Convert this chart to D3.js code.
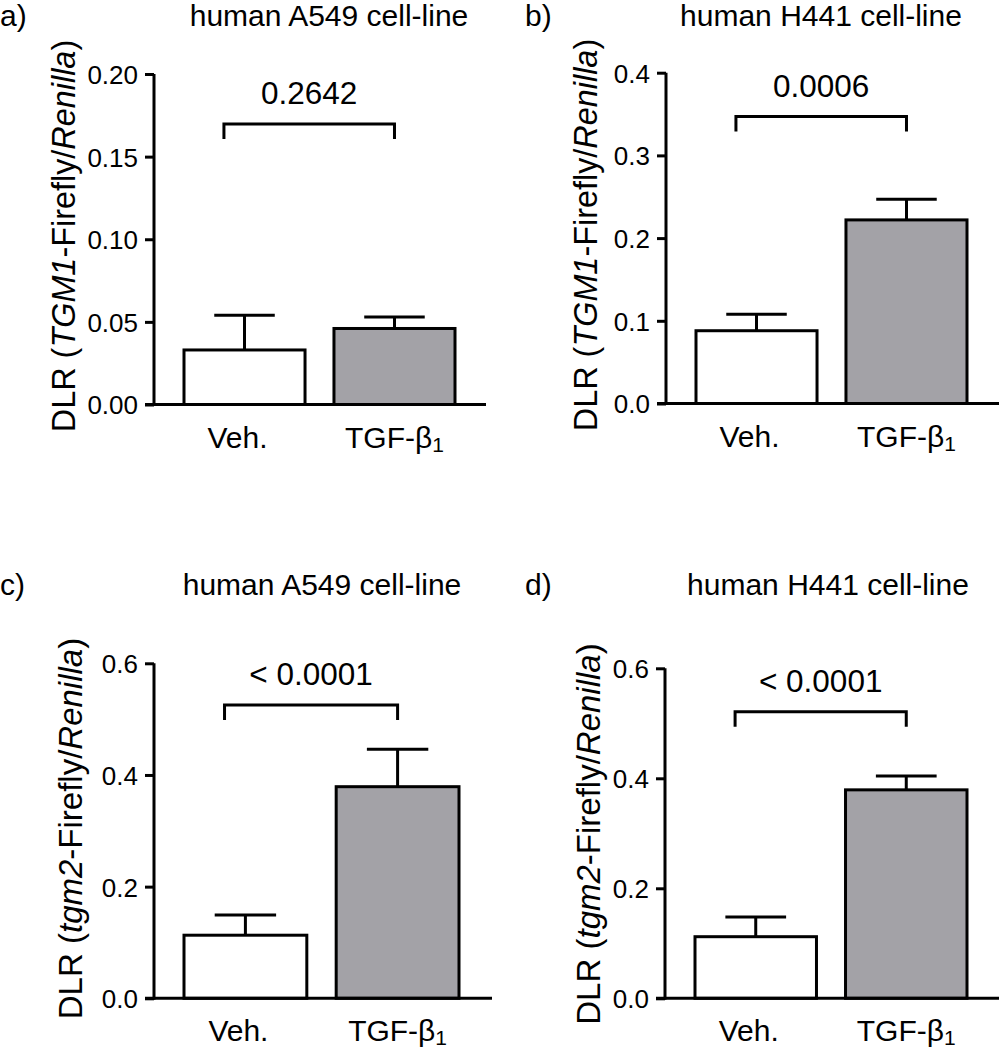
<!DOCTYPE html>
<html>
<head>
<meta charset="utf-8">
<script src="https://cdn.jsdelivr.net/npm/d3@7"></script>
<style>
  html, body { margin: 0; padding: 0; background: #fff; }
  svg { display: block; }
  text { font-family: "Liberation Sans", Arial, Helvetica, sans-serif; fill: #000; }
</style>
</head>
<body>
<svg id="chart" width="999" height="1050"></svg>
<script>
// ---------------- data ----------------
const categories = ["Veh.", "TGF-β1"];
const panelLetters = ["a)", "b)", "c)", "d)"];
const panelTitles = ["human A549 cell-line", "human H441 cell-line", "human A549 cell-line", "human H441 cell-line"];
const geneNames = ["TGM1", "TGM1", "tgm2", "tgm2"];
const yMaxValues = [0.20, 0.4, 0.6, 0.6];
const yTickValues = [
  [0, 0.05, 0.10, 0.15, 0.20],
  [0, 0.1, 0.2, 0.3, 0.4],
  [0, 0.2, 0.4, 0.6],
  [0, 0.2, 0.4, 0.6]
];
const yTickFormats = [".2f", ".1f", ".1f", ".1f"];
const meanValues = [
  [0.033, 0.046],
  [0.088, 0.222],
  [0.113, 0.379],
  [0.112, 0.379]
];
const semValues = [
  [0.021, 0.007],
  [0.020, 0.025],
  [0.036, 0.067],
  [0.036, 0.025]
];
const pValues = ["0.2642", "0.0006", "< 0.0001", "< 0.0001"];
const bracketValues = [0.1697, 0.347, 0.5255, 0.521];

// ---------------- layout ----------------
const layout = [
  { L: 154, yTop: 74,    yBot: 404.5, xEnd: 486, bandW: 271, labelX: 75,  labelY: 236, labelSize: 32.4, titleX: 329, titleY: 26, letterX: 0,   letterY: 26, xLabY: 448 },
  { L: 666, yTop: 72.7,  yBot: 403.5, xEnd: 999, bandW: 271, labelX: 597, labelY: 235, labelSize: 32.4, titleX: 821, titleY: 26, letterX: 525, letterY: 26, xLabY: 447 },
  { L: 154, yTop: 663.3, yBot: 998.3, xEnd: 492, bandW: 275, labelX: 82,  labelY: 828.5, labelSize: 33, titleX: 322, titleY: 595, letterX: 0, letterY: 595, xLabY: 1041 },
  { L: 665, yTop: 668.3, yBot: 998.3, xEnd: 999, bandW: 272, labelX: 600, labelY: 834, labelSize: 33,  titleX: 828, titleY: 595, letterX: 525, letterY: 595, xLabY: 1041 }
];
const barFills = ["#ffffff", "#a3a2a7"];
const SW = 3;

const svg = d3.select("#chart");

layout.forEach((lay, i) => {
  const g = svg.append("g");

  const y = d3.scaleLinear().domain([0, yMaxValues[i]]).range([lay.yBot, lay.yTop]);
  const x = d3.scaleBand().domain(categories)
    .range([lay.L + 30, lay.L + 30 + lay.bandW])
    .paddingInner(0.193).paddingOuter(0);
  const bw = x.bandwidth();

  // panel letter
  g.append("text").attr("x", lay.letterX).attr("y", lay.letterY)
    .attr("font-size", 30).text(panelLetters[i]);

  // title
  g.append("text").attr("x", lay.titleX).attr("y", lay.titleY)
    .attr("text-anchor", "middle").attr("font-size", 30).text(panelTitles[i]);

  // y axis
  const yAxis = d3.axisLeft(y).tickValues(yTickValues[i])
    .tickFormat(d3.format(yTickFormats[i]))
    .tickSize(9).tickSizeOuter(0).tickPadding(7);
  const ya = g.append("g").attr("transform", `translate(${lay.L},0)`).call(yAxis);
  ya.select(".domain").attr("stroke", "#000").attr("stroke-width", SW)
    .attr("d", `M0,${lay.yBot + 1.5}V${lay.yTop}`);
  ya.selectAll(".tick line").attr("stroke", "#000").attr("stroke-width", SW);
  ya.selectAll(".tick text").attr("font-size", 26)
    .attr("font-family", "'Liberation Sans', Arial, sans-serif").attr("dy", "0.36em");

  // y axis label
  const yl = g.append("text")
    .attr("transform", `translate(${lay.labelX},${lay.labelY}) rotate(-90)`)
    .attr("text-anchor", "middle").attr("font-size", lay.labelSize);
  yl.append("tspan").text("DLR (");
  yl.append("tspan").attr("font-style", "italic").text(geneNames[i]);
  yl.append("tspan").text("-Firefly/");
  yl.append("tspan").attr("font-style", "italic").text("Renilla");
  yl.append("tspan").text(")");

  // error bars (upper only)
  categories.forEach((c, j) => {
    const cx = x(c) + bw / 2;
    const top = y(meanValues[i][j] + semValues[i][j]);
    g.append("line").attr("x1", cx).attr("x2", cx)
      .attr("y1", y(meanValues[i][j])).attr("y2", top)
      .attr("stroke", "#000").attr("stroke-width", SW);
    g.append("line").attr("x1", cx - bw / 4).attr("x2", cx + bw / 4)
      .attr("y1", top).attr("y2", top)
      .attr("stroke", "#000").attr("stroke-width", SW);
  });

  // bars
  g.selectAll("rect.bar").data(categories).join("rect")
    .attr("class", "bar")
    .attr("x", c => x(c))
    .attr("width", bw)
    .attr("y", (c, j) => y(meanValues[i][j]))
    .attr("height", (c, j) => lay.yBot - y(meanValues[i][j]))
    .attr("fill", (c, j) => barFills[j])
    .attr("stroke", "#000").attr("stroke-width", SW);

  // x axis line
  g.append("line").attr("x1", lay.L - 9).attr("x2", lay.xEnd)
    .attr("y1", lay.yBot).attr("y2", lay.yBot)
    .attr("stroke", "#000").attr("stroke-width", SW);

  // x labels
  categories.forEach((c, j) => {
    const cx = x(c) + bw / 2;
    const t = g.append("text").attr("x", j === 0 ? cx - 7 : cx).attr("y", lay.xLabY)
      .attr("text-anchor", "middle").attr("font-size", 30);
    if (c.endsWith("1") && c.includes("β")) {
      t.append("tspan").text(c.slice(0, -1));
      t.append("tspan").attr("font-size", 21).attr("dy", 4).text(c.slice(-1));
    } else {
      t.text(c);
    }
  });

  // significance bracket
  const bx0 = x(categories[0]) + bw * 0.33;
  const bx1 = x(categories[1]) + bw / 2;
  const by = y(bracketValues[i]);
  g.append("path")
    .attr("d", `M${bx0},${by + 15}V${by}H${bx1}V${by + 15}`)
    .attr("fill", "none").attr("stroke", "#000").attr("stroke-width", SW);
  g.append("text").attr("x", (bx0 + bx1) / 2).attr("y", by - 20)
    .attr("text-anchor", "middle").attr("font-size", 31.5).text(pValues[i]);
});
</script>
</body>
</html>
